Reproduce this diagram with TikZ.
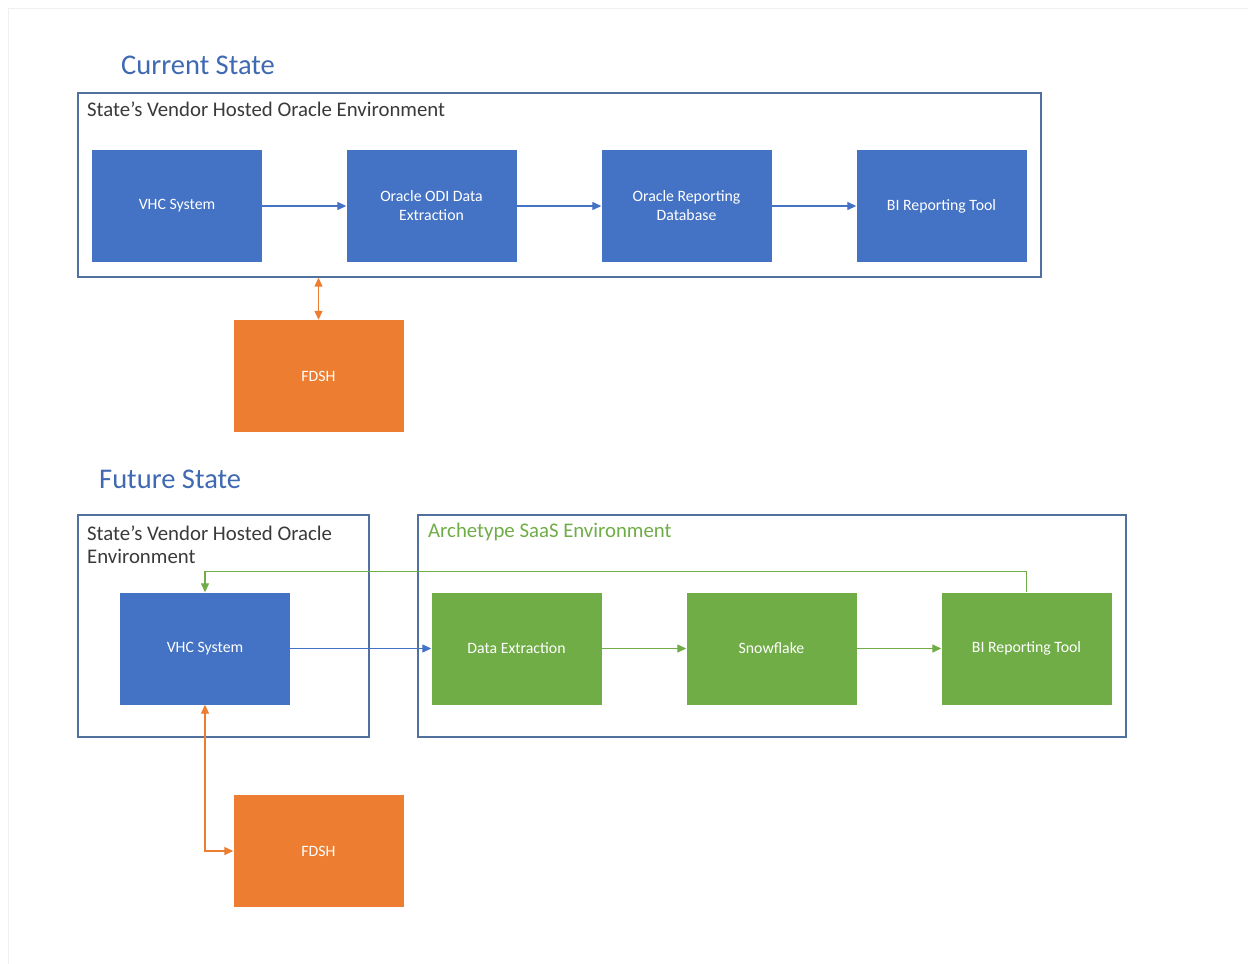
\documentclass[tikz,border=0pt]{standalone}
\usepackage{fontspec}
\setmainfont{Carlito}
\usetikzlibrary{arrows.meta,positioning}
\definecolor{bblue}{HTML}{4472C4}
\definecolor{bgreen}{HTML}{70AD47}
\definecolor{borange}{HTML}{ED7D31}
\definecolor{titleblue}{HTML}{3F69B2}
\definecolor{frameblue}{HTML}{50709E}
\definecolor{labelgray}{HTML}{3A3A3A}
\definecolor{faint}{HTML}{F0F0F0}
\begin{document}
\begin{tikzpicture}[x=1pt,y=-1pt,
  boxbase/.style={rectangle, minimum width=170pt, minimum height=112pt, inner sep=0pt, text=white, align=center,
     font=\fontsize{15.8}{19}\selectfont},
  bluebox/.style={boxbase, fill=bblue},
  greenbox/.style={boxbase, fill=bgreen},
  orangebox/.style={boxbase, fill=borange},
  envbox/.style={rectangle, draw=frameblue, line width=1.4pt, inner sep=0pt},
  title/.style={anchor=base west, text=titleblue, font=\fontsize{28.5}{32}\selectfont, inner sep=0pt},
  envlabel/.style={anchor=base west, text=labelgray, font=\fontsize{20.8}{23}\selectfont, inner sep=0pt, align=left},
  bluearrow/.style={draw=bblue, line width=1.3pt, -{Triangle[length=9pt,width=8pt]}},
  greenarrow/.style={draw=bgreen, line width=1.3pt, -{Triangle[length=9pt,width=8pt]}},
  orangearrow/.style={draw=borange, line width=1.3pt, {Triangle[length=9pt,width=8pt]}-{Triangle[length=9pt,width=8pt]}}
]
\useasboundingbox (0,0) rectangle (1248,964);
\fill[white] (0,0) rectangle (1248,964);
\draw[faint, line width=1pt] (8,964) -- (8,8) -- (1248,8);

% ---------- Current State ----------
\node[title] (t1) at (121,74) {Current State};
\node[envbox, minimum width=963pt, minimum height=184pt] (env1) at (559.5,185) {};
\node[envlabel] (l1) at (87,116) {State’s Vendor Hosted Oracle Environment};

\node[bluebox] (vhc) at (177,206) {VHC System};
\node[bluebox] (odi) at (431.5,206) {Oracle ODI Data\\Extraction};
\node[bluebox] (ord) at (686.5,206) {Oracle Reporting\\Database};
\node[bluebox] (bi) at (941.5,206) {BI Reporting Tool};
\node[orangebox] (fdsh) at (318.5,376) {FDSH};

\draw[bluearrow] (vhc) -- (odi);
\draw[bluearrow] (odi) -- (ord);
\draw[bluearrow] (ord) -- (bi);
\draw[orangearrow] (fdsh.north |- env1.south) -- (fdsh.north);

% ---------- Future State ----------
\node[title] (t2) at (99,488) {Future State};
\node[envbox, minimum width=291pt, minimum height=222pt] (env2) at (223.5,626) {};
\node[envlabel, anchor=north west] (l2) at (87,525.5) {State’s Vendor Hosted Oracle\\Environment};
\node[envbox, minimum width=708pt, minimum height=222pt] (env3) at (772,626) {};
\node[envlabel, text=bgreen] (l3) at (428,537) {Archetype SaaS Environment};

\node[bluebox] (vhc2) at (205,648.5) {VHC System};
\node[greenbox] (de) at (516.5,648.5) {Data Extraction};
\node[greenbox] (sf) at (771.5,648.5) {Snowflake};
\node[greenbox] (bi2) at (1026.5,648.5) {BI Reporting Tool};
\node[orangebox] (fdsh2) at (318.5,851) {FDSH};

\draw[bluearrow] (vhc2) -- (de);
\draw[greenarrow] (de) -- (sf);
\draw[greenarrow] (sf) -- (bi2);
\draw[greenarrow] (bi2.north) -- ++(0,-21) -| (vhc2.north);
\draw[orangearrow] (vhc2.south) |- (fdsh2.west);
\end{tikzpicture}
\end{document}
